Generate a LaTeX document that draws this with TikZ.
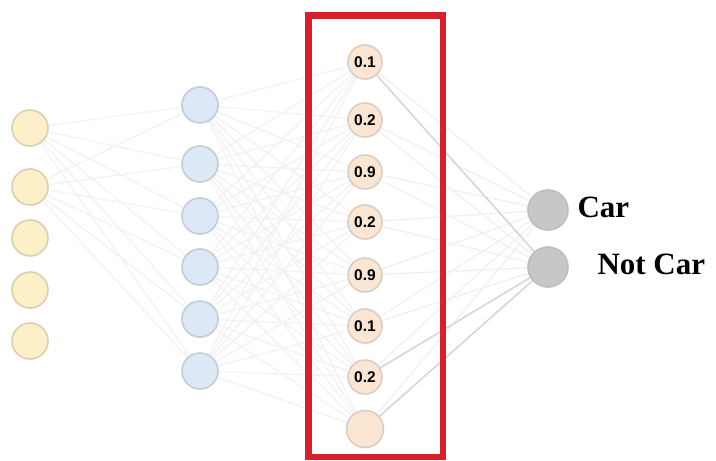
\documentclass[tikz,border=0pt]{standalone}
\usepackage{fontspec}
\setmainfont{Liberation Serif}
\newfontfamily\numfont{Liberation Sans}
\begin{document}
\begin{tikzpicture}[x=1pt,y=-1pt,
  neuron/.style={circle,draw,line width=1.6pt,inner sep=0pt},
  innode/.style={neuron,minimum size=36pt,fill=inY,draw=inYd},
  hidnode/.style={neuron,minimum size=36pt,fill=hdB,draw=hdBd},
  pnode/.style={neuron,minimum size=34pt,fill=prO,draw=prOd,font=\numfont\bfseries\fontsize{15.5}{15.5}\selectfont},
  outnode/.style={neuron,minimum size=40pt,fill=outG,draw=outGd},
  faint/.style={draw=black!5,line width=1.2pt},
  soft/.style={draw=black!6,line width=1.2pt},
  strong/.style={draw=black!17,line width=1.4pt},
  lbl/.style={anchor=west,font=\bfseries\fontsize{31}{31}\selectfont}]
\definecolor{inY}{HTML}{FDF0C9}
\definecolor{inYd}{HTML}{D9D0B0}
\definecolor{hdB}{HTML}{DCE8F5}
\definecolor{hdBd}{HTML}{C4CCD5}
\definecolor{prO}{HTML}{FBE6D4}
\definecolor{prOd}{HTML}{D8CEC5}
\definecolor{outG}{HTML}{C7C7C7}
\definecolor{outGd}{HTML}{BDBDBD}
\definecolor{boxR}{HTML}{D9202A}
\useasboundingbox (0,0) rectangle (716,461);
\fill[white] (0,0) rectangle (716,461);

% input layer
\foreach \i/\y in {1/128,2/187,3/238,4/290,5/341}
  \coordinate (i\i) at (30,\y);
% hidden layer
\foreach \j/\y in {1/105,2/164,3/216,4/267,5/319,6/371}
  \coordinate (h\j) at (200,\y);
% probability layer
\foreach \k/\y in {1/62,2/120,3/172,4/222,5/275,6/326,7/377,8/429}
  \coordinate (p\k) at (365,\y);
% output layer
\coordinate (o1) at (548,210);
\coordinate (o2) at (548,267);

% connections
\foreach \i in {1,2}
  \foreach \j in {1,...,6}
    \draw[faint] (i\i) -- (h\j);
\foreach \j in {1,...,6}
  \foreach \k in {1,...,8}
    \draw[faint] (h\j) -- (p\k);
\foreach \k in {1,...,8}
  \foreach \o in {1,2}
    \draw[soft] (p\k) -- (o\o);
\foreach \k in {1,7,8}
  \draw[strong] (p\k) -- (o2);

% neurons
\foreach \i in {1,...,5}
  \node[innode] (n-i\i) at (i\i) {};
\foreach \j in {1,...,6}
  \node[hidnode] (n-h\j) at (h\j) {};
\foreach \k/\v in {1/0.1,2/0.2,3/0.9,4/0.2,5/0.9,6/0.1,7/0.2}
  \node[pnode] (n-p\k) at (p\k) {\v};
\node[pnode,minimum size=37pt] (n-p8) at (p8) {};
\node[outnode] (n-o1) at (o1) {};
\node[outnode] (n-o2) at (o2) {};

% highlight frame
\draw[boxR,line width=6.5pt] (308.5,15.5) rectangle (443,457);

% labels
\node[lbl] (car) at (574,207) {Car};
\node[lbl] (notcar) at (594,264) {Not Car};
\end{tikzpicture}
\end{document}
